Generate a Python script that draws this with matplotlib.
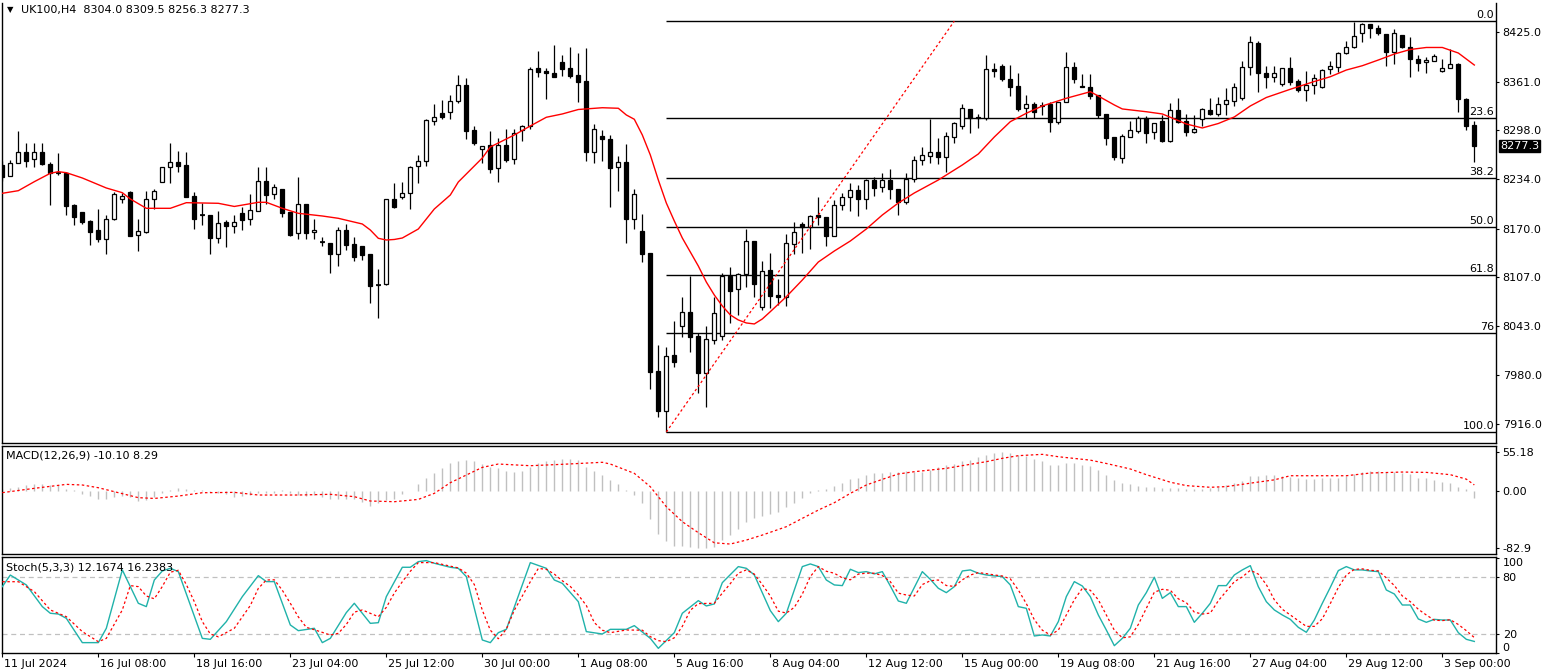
import matplotlib
matplotlib.use("Agg")
import matplotlib.pyplot as plt
from matplotlib.transforms import ScaledTranslation
import numpy as np

plt.rcParams['font.family'] = ['DejaVu Sans']
plt.rcParams['font.size'] = 8

# ---------------- data ----------------
open_ = [8252,8238.6,8255.5,8269,8260,8269,8254,8242,8242.5,8200.5,8191,8180,8168,8157,8182,8208,8218,8161,8165,8208,
         8231,8249.5,8256,8252.5,8212,8187,8187.5,8158,8179,8173.6,8190.5,8183,8193,8232,8215,8222,8192,8164,8202,8165,
         8152,8150.7,8137,8168,8150,8147,8137,8097,8097.4,8208,8210.5,8216,8251,8258,8310,8320,8321,8336,8356.5,8298,
         8273,8278.5,8249,8278.5,8260,8298,8303.6,8378,8375,8372,8386.8,8378,8369.5,8361.6,8270,8290,8287,8249.5,8256,8182,
         8167,8138,7984.7,7933,8005.5,8043.6,8061,8030,7982,8025,8030,8108.6,8091,8110.4,8153.7,8068,8116,8084,8081,8149.4,
         8175.8,8171.5,8187.5,8185,8160.6,8200,8210.5,8220,8208,8233,8224.3,8233,8221,8205,8234,8259,8264.6,8269,8262.5,8289.3,
         8303.6,8325.3,8315.3,8314,8377.3,8381.6,8364.3,8355.2,8326.2,8331.8,8329.5,8331.8,8308.8,8335,8379.5,8355.2,8353.5,8343.5,8318.8,8289.3,
         8261.2,8289.3,8297.1,8314,8295,8309.7,8283.8,8324,8309.7,8295.8,8312.3,8324,8318.8,8331.4,8336,8340,8379.5,8411.6,8371.7,8367.3,
         8357.4,8378.2,8361.7,8350,8356.5,8354.3,8376.9,8379.5,8397.7,8405.5,8423.8,8435.4,8430.2,8422.8,8399.8,8421.5,8406.3,8390.3,8386,8388,
         8375,8378,8383.8,8338,8304.0]
high_ = [8258,8259,8297,8281,8281,8281,8256,8268,8243,8202,8191,8181,8195,8187.5,8218,8216.5,8219,8182,8219,8222,
         8250,8281,8271,8269,8218,8203,8188,8193,8181,8187.5,8197.5,8215,8250,8250,8228,8222,8192,8236.5,8202,8183,
         8159,8151,8171.5,8176,8158.5,8147,8137,8118,8209,8229.5,8230,8251.6,8265.5,8312,8332,8337,8343.5,8369.5,8365,8303,
         8277.6,8297,8288,8299,8299,8304.5,8380,8401,8378,8408.5,8395.5,8405.5,8398.5,8404,8306,8298,8291.5,8264.6,8280,8221.3,
         8188.5,8138,8018.5,8016,8049.7,8081,8108.6,8034,8043,8081,8111.7,8120,8111.7,8169,8153.7,8127.7,8138.5,8105,8163,8178,
         8178.4,8187.5,8211,8185,8207,8215.7,8228.7,8226,8234.3,8236.5,8241.7,8248,8221,8241.7,8264.6,8276,8313,8288,8295.8,8308.8,
         8331.8,8325.3,8318.8,8395.5,8384.7,8383.8,8382.5,8372.5,8343.5,8334,8335,8335,8335,8399.8,8386.8,8370.8,8370.8,8343.5,8318.8,8289.3,
         8292.4,8310,8316.2,8316.2,8306.7,8317.5,8332.8,8339.2,8318.8,8317.5,8326.2,8339.2,8340.5,8352.2,8358.7,8388,8420,8413.7,8381.6,8381.6,
         8379,8392.5,8364.3,8374.7,8370.8,8377,8387.7,8399,8413.7,8438.8,8436.7,8435.4,8434.5,8422.8,8428.9,8421.5,8418.5,8395.5,8393.3,8396.8,
         8390,8403.3,8384.7,8340,8309.5]
low_ = [8232,8238,8255,8250,8250,8252,8201,8240,8187,8174.5,8176,8148,8153,8137,8181,8203,8160,8141,8164,8195,
        8230,8229.5,8244,8211,8169,8175,8137,8151,8146,8164,8168,8175,8193,8202,8208,8184.5,8160.6,8156,8156,8157,
        8147,8112,8121.6,8142,8128,8129,8073.5,8054,8097,8197,8208,8195,8229.5,8251.6,8304.5,8313,8312,8333,8287,8278.5,
        8254.7,8242,8231,8256,8253.5,8284,8299,8366.5,8338,8367,8368.6,8365,8335,8258,8254.7,8258,8198,8219,8150.7,8170,
        8127,7961,7925,7906,7989.5,8028.5,8009.8,7956.5,7938,8020,8025,8047.5,8057.5,8094.3,8081,8064,8067,8070.5,8069.6,8136.4,
        8138.5,8143.3,8174.5,8147.6,8160.6,8194,8193,8186.6,8195,8212,8217.4,8208.7,8187.5,8201.4,8231,8252.6,8254.7,8253.4,8243.8,8280.8,
        8299,8293.8,8301,8311,8367.3,8362,8342.6,8322.7,8313.2,8313.2,8317.5,8295.8,8305.8,8335,8358.7,8353.5,8338,8313.2,8278.5,8259,
        8255.6,8289.3,8294.5,8281.5,8286.4,8282.9,8282.9,8307.5,8290.2,8293.7,8303.2,8317.5,8316.2,8317.5,8329.3,8337,8369.5,8347,8353,8360.8,
        8355.2,8356.5,8347.8,8336,8344.4,8353,8370.8,8373.8,8396.4,8404.2,8412,8417.2,8421.5,8381.6,8383.4,8404.2,8367.3,8374.7,8372.5,8388,
        8373,8378,8321.8,8298,8256.3]
close_ = [8237,8255.5,8269,8258,8269,8254,8242,8242,8199.6,8185,8179,8166,8157,8182,8215,8212,8160.6,8167,8208,8219,
          8250,8256,8251.6,8211,8182,8187,8158,8177,8173.6,8179,8181,8194,8232,8213.5,8223.5,8189.7,8161.5,8202,8164,8168,
          8152,8137,8168,8148.5,8133,8135.5,8095.6,8097,8209,8197.5,8215.7,8249.5,8258,8311,8314.5,8314.5,8336,8357,8297,8280.7,
          8277.6,8248,8278.5,8259,8294,8303.6,8377,8373.8,8371.7,8367,8377.3,8368,8361,8270,8299,8287,8249,8256,8182,8215,
          8136.5,7983,7933,8004,7997,8061,8029,7982,8026,8060,8108,8089,8110.4,8153.7,8097.4,8114.7,8082.6,8081,8151,8165,
          8171.5,8186,8185,8160.6,8200,8210.5,8220,8208,8233,8223,8233,8221,8205,8234.3,8259,8265.5,8269,8263.3,8290,8306.7,
          8326,8313.2,8313.2,8377.3,8375,8364.3,8354.3,8325.3,8331.8,8321,8329.5,8308.8,8335,8379.5,8364.3,8353.5,8342.6,8317.5,8288,8263.3,
          8290,8298,8314,8294.5,8306.7,8283.8,8324,8309,8295.8,8299.3,8325.3,8318.8,8331.4,8337,8353.5,8379.5,8412,8371.7,8366.5,8371.7,
          8378.2,8360.8,8350,8356.5,8365.2,8376,8381.2,8397.7,8405.5,8420.2,8435.7,8430.2,8423.7,8399.8,8423.7,8406.3,8390,8385.5,8389,8394.2,
          8378,8383.8,8338,8303.6,8277.3]

ma_idx = [0,2,4,6,7,8,10,13,15,16,18,21,23,27,29,32,33,35,37,40,42,45,46,47,48,49,50,52,54,56,57,60,61,64,66,68,70,72,75,77,
          78,79,80,81,82,83,84,85,86,87,88,89,90,91,92,93,94,95,96,98,100,102,104,106,108,110,112,114,117,120,122,124,126,128,130,
          133,136,137,139,140,143,145,148,150,152,154,156,158,161,164,166,168,170,172,174,176,178,180,182,184]
ma_val = [8215.8,8219.2,8230.9,8241.8,8243.9,8242.6,8235.7,8222.7,8216.6,8208.4,8196.3,8196.3,8203.6,8202.8,8198.7,8204.1,8204.1,
          8196.3,8189.8,8186.3,8183.3,8175.9,8168.1,8157.3,8155.1,8155.8,8157.7,8169.4,8195.4,8213.6,8230.5,8261.7,8276.0,8291.6,
          8303.3,8314.6,8318.9,8324.7,8327.0,8326.3,8317.6,8312.0,8291.6,8265.6,8233.1,8203.2,8179.8,8157.7,8139.5,8121.3,8100.5,
          8083.6,8069.4,8057.7,8051.2,8047.3,8046.0,8052.5,8062.0,8081.4,8103.1,8126.5,8140.8,8153.8,8169.4,8187.6,8203.2,8216.2,
          8233.1,8252.6,8266.9,8289.0,8308.9,8319.8,8329.3,8339.3,8347.8,8342.2,8330.6,8325.4,8321.8,8318.9,8305.9,8300.7,8306.5,
          8315.0,8329.3,8340.3,8351.0,8361.1,8367.3,8376.0,8381.6,8389.0,8396.8,8402.7,8405.3,8405.3,8398.1,8382.5]

macd_hist = [1.9,3.7,5.6,7.5,9.4,10.3,8.4,7.5,2.8,0.5,-4.7,-7.5,-11.2,-12.2,-8.4,-7.5,-9.4,-14.1,-13.1,-8.4,
             -3.7,0.5,3.4,1.9,0.9,0.9,-1.4,-3.7,-4.7,-8.4,-7.5,-6.6,-2.8,-3.7,-2.8,0.9,-3.7,-6.6,-7.5,-6.6,
             -8.4,-12.2,-11.2,-12.2,-12.2,-15.9,-22.5,-17.8,-13.1,-11.2,-4.7,-0.5,9.4,18.7,25.9,31.9,39.4,43.1,44,43.1,
             38.4,34.7,31.9,28.1,27.2,29,34.5,39.3,43.1,44,45,45.5,44,34.5,28.8,22.5,15.4,9.6,0.9,-6.2,
             -17.2,-41,-62.7,-71.9,-79.6,-79.6,-80.5,-82.8,-82.9,-80.5,-70.9,-63.7,-55.6,-44.5,-39.7,-36.4,-33.5,-30.2,-23,-17.2,
             -11.1,-3.8,0.3,2.4,6.7,11.5,16.3,18.6,22.5,24.9,25.9,26.3,26.3,28.3,27.3,27.3,29.7,34.5,36.9,38.3,
             42.6,44,48.8,51.3,54.6,55.18,53.7,51.3,49.8,45.9,42.4,37.6,36.6,39.1,39.1,37.6,35.1,30.3,23,15.6,
             11.7,9.3,7.3,5.9,4.9,3.4,3.4,3.4,2.4,2,2.4,3.4,5.9,8.3,10.8,14.6,21.5,21.5,23,23,
             20.5,19.5,18.1,17.1,17.1,18.1,18.1,18.1,20.5,24.4,26.3,27.8,28.8,26.8,26.8,25.4,23.9,18.1,18.1,15.6,
             13.2,10.8,5.9,1.9,-10.1]

sig_idx = [0,4,8,10,12,14,17,19,22,25,29,32,37,41,44,46,49,52,54,56,58,60,62,66,70,75,76,79,81,83,85,87,89,91,93,95,98,100,
           102,104,106,108,110,112,114,116,118,121,123,125,127,130,132,136,138,141,143,146,148,151,153,156,159,161,164,168,171,
           175,178,181,183,184]
sig_val = [-2.8,3.4,9.1,8.2,4.3,-1.4,-10,-11.1,-7.7,-2.9,-2.4,-6.2,-6.2,-5.2,-8.6,-14.8,-15.8,-12.5,-3.8,11.5,22.5,33.5,38.3,
           35.9,37.9,40.8,38.3,24.9,5.7,-23,-44.5,-60.3,-74.8,-76.6,-70.9,-63.7,-51.7,-39.7,-27.8,-17.2,-3.8,8.2,16.3,24,27.3,
           29.7,32.1,37.9,41.7,46.5,50.3,52.2,48.8,43.9,39.1,31.2,23,12.2,7.3,4.9,5.9,10.8,15.6,21.5,21.5,21.5,25.4,26.8,26.3,
           23,16.6,8.29]

k_idx = [0,1,3,5,6,7,8,10,12,13,15,17,18,19,20,21,22,25,26,28,30,32,33,34,36,37,39,40,41,43,44,46,47,48,50,51,52,53,54,56,
         57,58,60,61,62,63,66,68,69,70,72,73,75,76,78,79,81,82,84,85,87,88,89,90,92,93,94,96,97,98,100,101,102,103,104,105,
         106,107,108,109,110,111,112,113,115,116,117,118,119,120,121,122,123,124,125,126,127,128,129,130,131,132,133,134,135,
         136,137,138,139,140,141,142,143,144,145,146,147,148,149,150,151,152,153,154,155,156,157,158,159,160,161,162,163,164,
         165,166,167,168,169,170,171,172,173,174,175,176,177,178,179,180,181,182,183,184]
k_val = [69.8,82,71.6,48.8,41.8,41,36.5,10.9,10.9,26,87.4,52.3,48.8,76.8,86.3,89.1,85.6,15.4,14.4,33,59.3,81.4,75.1,75.1,
         29.5,23.5,26,10.9,15.4,42.5,52.3,31.2,31.9,59.3,90.2,90.2,96.1,97.2,94.4,90.2,89.1,80.4,13.7,10.9,21.4,24.9,95.1,
         89.1,76.8,73.3,54,22.5,20,24.9,24.9,28.8,15.4,4.9,21.4,41.8,55.1,49.5,51.6,74,90.9,89.1,82.1,44.6,33,41.8,90.9,93.7,
         90.9,76.8,71.6,70.9,88.1,84.6,85.6,83.2,85.6,70.5,54.7,52.3,85.6,77.5,68.1,63.5,69.8,86.3,87.4,83.9,82.1,81.1,80.4,
         71.6,48.8,47,17.9,19,17.9,33,59.3,75.1,70.5,59.3,40,24.2,7.7,15.4,26,50.5,63.5,79.7,57.5,63.5,48.8,48.8,32.3,41.8,
         52.3,70.9,70.9,82.1,87.4,91.9,69.8,54,45.3,40,35.4,27,21.8,34.7,52.3,69.1,86.7,90.9,87.4,87.4,86.3,85.6,66.3,62.1,
         50.5,50.5,35.8,32.3,35.4,34.7,34.7,21.4,14.4,12.1674]

d_idx = [0,2,4,6,8,10,12,13,15,16,17,18,19,20,21,22,23,24,25,26,27,29,31,32,33,34,35,36,37,38,39,41,42,43,44,45,46,47,48,
         49,50,51,52,54,57,58,59,60,61,62,63,64,65,66,67,68,69,70,71,72,73,74,75,76,78,80,81,82,83,84,85,86,87,89,90,91,92,
         93,94,95,96,97,98,99,100,101,102,103,104,105,106,107,108,109,110,111,112,113,114,115,116,117,118,119,120,121,122,123,
         124,125,126,127,128,129,130,131,132,133,134,135,136,137,138,139,140,141,142,143,144,145,146,147,148,149,150,151,152,
         153,154,155,156,157,158,159,160,161,162,163,164,165,166,167,168,169,170,171,172,173,174,175,176,177,178,179,180,181,
         182,183,184]
d_val = [75,75,64.6,45.3,38.2,22.5,11.9,15.4,45.3,70.9,69.8,60,57,70,85,87,72,54,33,20,17,26,50,68,76.8,77,66,52.3,38,27,
         24.5,18.9,20.7,30,43,45.3,41.8,38.2,48,63,75,86,95.1,95.1,89.5,84,72,45,24,15,25,45,60,75,89,88,83,76,70,61,50,32,
         24,21.4,24.2,24,17.2,13,11.9,16,28,45,52,52.3,63,73,84,87.4,83,72,60,44,42,48,62,80.4,90.9,86,83.9,79,77,83,84,83.9,
         81.5,75,63,61,60,72,76,76.8,71,70,77,82,84.6,83.5,82.1,81,78,66.3,52,35,24,19,24,40,56,68,66,56,40,24,16,17,30,47,
         64,67,66,57,53,43,41,42,55,65,75,80,87,83,72,56,46,40,34,28,28,36,52,69,82,88,88.5,87,86.4,79,71,60,54,46,40,34.5,
         34.1,35,30,23.5,16.2383]

price_ticks = [8425.0, 8361.0, 8298.0, 8234.0, 8170.0, 8107.0, 8043.0, 7980.0, 7916.0]
macd_ticks = [55.18, 0.0, -82.9]
macd_tick_labels = ["55.18", "0.00", "-82.9"]
stoch_ticks = [0, 20, 80, 100]
stoch_levels = [20, 80]

fib_low, fib_high = 7905.6, 8439.6
fib_start, fib_end = 83, 119
fib_levels = [0.0, 23.6, 38.2, 50.0, 61.8, 76.0, 100.0]
fib_labels = ["0.0", "23.6", "38.2", "50.0", "61.8", "76", "100.0"]

date_pos = [0, 12, 24, 36, 48, 60, 72, 84, 96, 108, 120, 132, 144, 156, 168, 180]
date_labels = ["11 Jul 2024", "16 Jul 08:00", "18 Jul 16:00", "23 Jul 04:00", "25 Jul 12:00", "30 Jul 00:00",
               "1 Aug 08:00", "5 Aug 16:00", "8 Aug 04:00", "12 Aug 12:00", "15 Aug 00:00", "19 Aug 08:00",
               "21 Aug 16:00", "27 Aug 04:00", "29 Aug 12:00", "3 Sep 00:00"]

title_main = "UK100,H4  8304.0 8309.5 8256.3 8277.3"
title_macd = "MACD(12,26,9) -10.10 8.29"
title_stoch = "Stoch(5,3,3) 12.1674 16.2383"
last_price = 8277.3

# ---------------- figure ----------------
W, H = 1553, 671
fig = plt.figure(figsize=(W / 100, H / 100), dpi=100)
fig.patch.set_facecolor('white')


def rect(x0, y0, x1, y1):
    return [x0 / W, 1 - y1 / H, (x1 - x0) / W, (y1 - y0) / H]


ax_p = fig.add_axes(rect(2, 3, 1496, 443))
ax_m = fig.add_axes(rect(2, 446, 1496, 554))
ax_s = fig.add_axes(rect(2, 557, 1496, 653))

XL = (-0.04, 186.71)
for ax in (ax_p, ax_m, ax_s):
    ax.set_xlim(*XL)
    ax.set_facecolor('white')
    for sp in ax.spines.values():
        sp.set_color('black')
        sp.set_linewidth(1)
    ax.yaxis.tick_right()
    ax.tick_params(axis='y', direction='out', length=2.4, width=0.8, pad=2.4, labelsize=8, colors='black')
ax_p.spines['top'].set_visible(False)
ax_p.tick_params(axis='x', bottom=False, labelbottom=False)
ax_m.tick_params(axis='x', bottom=False, labelbottom=False)

# ---- candles ----
o = np.array(open_); h = np.array(high_); l = np.array(low_); c = np.array(close_)
idx = np.arange(len(c))
up = c >= o
ax_p.vlines(idx, l, h, color='black', lw=0.9, zorder=2)
bb = np.minimum(o, c)
bh = np.abs(c - o)
ax_p.bar(idx[up], bh[up], bottom=bb[up], width=0.5, facecolor='white', edgecolor='black', linewidth=0.9, zorder=3)
ax_p.bar(idx[~up], bh[~up], bottom=bb[~up], width=0.5, facecolor='black', edgecolor='black', linewidth=0.9, zorder=3)
doji = bh < 0.6
ax_p.hlines(c[doji], idx[doji] - 0.3, idx[doji] + 0.3, color='black', lw=1.2, zorder=4)

# ---- moving average ----
ax_p.plot(ma_idx, ma_val, color='red', lw=1.0, zorder=5)

# ---- fibonacci ----
rng = fib_high - fib_low
for lev, lab in zip(fib_levels, fib_labels):
    pr = fib_high - lev / 100.0 * rng
    ax_p.hlines(pr, fib_start, XL[1], color='black', lw=1.0, zorder=1)
    ax_p.annotate(lab, xy=(1, pr), xycoords=('axes fraction', 'data'), xytext=(-2, 1),
                  textcoords='offset pixels', ha='right', va='bottom', fontsize=8, zorder=6)
ax_p.plot([fib_start, fib_end], [fib_low, fib_high], color='red', lw=0.9,
          linestyle=(0, (2, 2)), zorder=5)

ax_p.set_ylim(7891.3, 8463.1)
ax_p.set_yticks(price_ticks)
ax_p.set_yticklabels([f"{v:.1f}" for v in price_ticks])

ax_p.annotate("\u25BC", xy=(0, 1), xycoords='axes fraction', xytext=(5, -7), textcoords='offset pixels',
              ha='left', va='center', fontsize=6)
ax_p.annotate(title_main, xy=(0, 1), xycoords='axes fraction', xytext=(19, -7), textcoords='offset pixels',
              ha='left', va='center', fontsize=8)
ax_p.annotate(f"{last_price:.1f}", xy=(1, last_price), xycoords=('axes fraction', 'data'), xytext=(4, 0),
              textcoords='offset pixels', ha='left', va='center', fontsize=8, color='white',
              bbox=dict(boxstyle='square,pad=0.12', fc='black', ec='black'), annotation_clip=False, zorder=10)

# ---- MACD ----
ax_m.vlines(idx, 0, macd_hist, color='#c0c0c0', lw=1.0, zorder=2)
ax_m.plot(sig_idx, sig_val, color='red', lw=0.9, linestyle=(0, (2, 2)), zorder=3)
ax_m.set_ylim(-90.9, 64.2)
ax_m.set_yticks(macd_ticks)
ax_m.set_yticklabels(macd_tick_labels)
ax_m.annotate(title_macd, xy=(0, 1), xycoords='axes fraction', xytext=(4, -10), textcoords='offset pixels',
              ha='left', va='center', fontsize=8, zorder=6)

# ---- Stochastic ----
for lv in stoch_levels:
    ax_s.axhline(lv, color='#c0c0c0', lw=0.9, linestyle=(0, (4, 3)), zorder=1)
ax_s.plot(k_idx, k_val, color='#20b2aa', lw=1.0, zorder=3)
ax_s.plot(d_idx, d_val, color='red', lw=0.9, linestyle=(0, (2, 2)), zorder=3)
ax_s.set_ylim(0, 101)
ax_s.set_yticks(stoch_ticks)
ax_s.set_yticklabels([str(v) for v in stoch_ticks])
for t, v in zip(ax_s.get_yticklabels(), stoch_ticks):
    if v == 100:
        t.set_va('top')
    elif v == 0:
        t.set_va('bottom')
ax_s.annotate(title_stoch, xy=(0, 1), xycoords='axes fraction', xytext=(4, -11), textcoords='offset pixels',
              ha='left', va='center', fontsize=8, zorder=6)

ax_s.set_xticks(date_pos)
ax_s.set_xticklabels(date_labels)
ax_s.tick_params(axis='x', direction='out', length=3, width=0.8, pad=1.5, labelsize=8)
off = ScaledTranslation(2 / 100, 0, fig.dpi_scale_trans)
for t in ax_s.get_xticklabels():
    t.set_ha('left')
    t.set_transform(t.get_transform() + off)

fig.savefig("out.png", dpi=100, facecolor='white')
